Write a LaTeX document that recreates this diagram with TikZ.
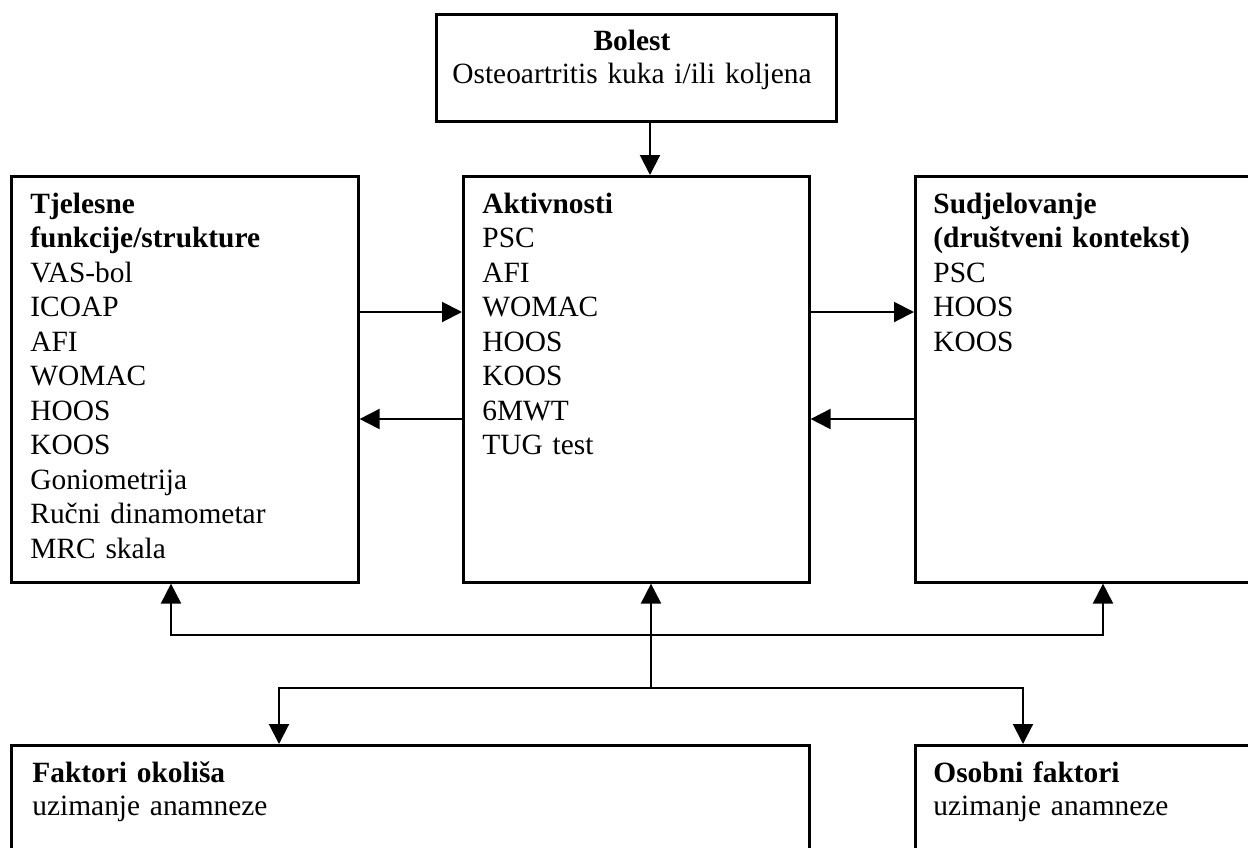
\documentclass[tikz,border=0pt]{standalone}
\usepackage{fontspec}
\setmainfont{Liberation Serif}
\usetikzlibrary{arrows.meta}

\begin{document}
\begin{tikzpicture}[x=0.5pt,y=-0.5pt,>={Triangle[length=10pt,width=10pt]},
      box/.style={draw,line width=1.3pt,inner sep=0pt,anchor=north west},
      txt/.style={inner sep=0pt,font=\fontsize{14.7}{17.25}\selectfont,align=left,text width=#1},
      tight/.style={font=\fontsize{14.7}{16.5}\selectfont},
      conn/.style={line width=1pt}]
    \clip (0,0) rectangle (1248,847);
    \node[box,minimum width=200pt,minimum height=53.5pt] (bol)  at (435,13)  {};
    \node[box,minimum width=173.5pt,minimum height=203pt] (tf)  at (10,175)  {};
    \node[box,minimum width=173pt,minimum height=203pt]   (akt) at (462,175) {};
    \node[box,minimum width=193pt,minimum height=203pt]   (sud) at (914,175) {};
    \node[box,minimum width=399pt,minimum height=78.5pt]  (okol) at (10,744) {};
    \node[box,minimum width=193pt,minimum height=78.5pt]  (osob) at (914,744) {};
    \node[txt=200pt,tight,align=center,anchor=base] (bol-t) at (632,50) {\textbf{Bolest}\\Osteoartritis kuka i/ili koljena};
    \node[txt=165pt,anchor=base west] (tf-t) at (30,213) {\textbf{Tjelesne}\\\textbf{funkcije/strukture}\\VAS-bol\\ICOAP\\AFI\\WOMAC\\HOOS\\KOOS\\Goniometrija\\Ručni dinamometar\\MRC skala};
    \node[txt=160pt,anchor=base west] (akt-t) at (482,213) {\textbf{Aktivnosti}\\PSC\\AFI\\WOMAC\\HOOS\\KOOS\\6MWT\\TUG test};
    \node[txt=170pt,anchor=base west] (sud-t) at (933,213) {\textbf{Sudjelovanje}\\\textbf{(društveni kontekst)}\\PSC\\HOOS\\KOOS};
    \node[txt=300pt,tight,anchor=base west] (okol-t) at (32,782) {\textbf{Faktori okoliša}\\uzimanje anamneze};
    \node[txt=150pt,tight,anchor=base west] (osob-t) at (933,782) {\textbf{Osobni faktori}\\uzimanje anamneze};
    \coordinate (ta) at (650,0);
    \coordinate (ya) at (0,312);
    \coordinate (yb) at (0,419);
    \coordinate (busl) at (171,635);
    \coordinate (busr) at (1103,635);
    \coordinate (hub) at (651,688);
    \coordinate (hubl) at (279,688);
    \coordinate (hubr) at (1023,688);
    \draw[conn,->] (bol.south -| ta) -- (akt.north -| ta);
    \draw[conn,->] (tf.east |- ya) -- (akt.west |- ya);
    \draw[conn,->] (akt.west |- yb) -- (tf.east |- yb);
    \draw[conn,->] (akt.east |- ya) -- (sud.west |- ya);
    \draw[conn,->] (sud.west |- yb) -- (akt.east |- yb);
    \draw[conn,->] (hub) -- (akt.south -| hub);
    \draw[conn,<->] (tf.south -| busl) -- (busl) -- (busr) -- (sud.south -| busr);
    \draw[conn,<->] (okol.north -| hubl) -- (hubl) -- (hubr) -- (osob.north -| hubr);
  \end{tikzpicture}
\end{document}
